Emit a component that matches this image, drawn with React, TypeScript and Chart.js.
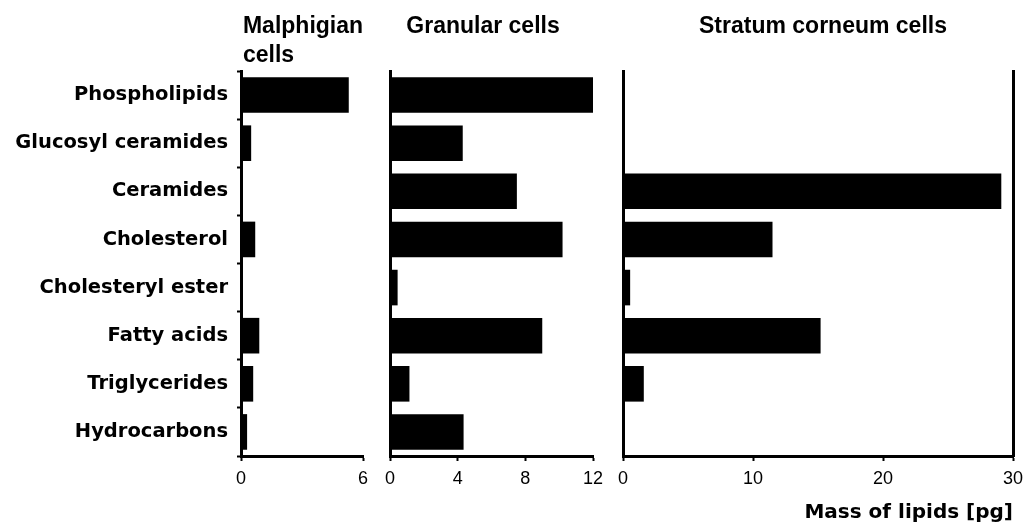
import React, { useEffect, useRef } from 'react';
import { Chart, registerables } from 'chart.js';

Chart.register(...registerables);

const categories = [
  'Phospholipids',
  'Glucosyl ceramides',
  'Ceramides',
  'Cholesterol',
  'Cholesteryl ester',
  'Fatty acids',
  'Triglycerides',
  'Hydrocarbons',
];
const malphigianValues = [5.3, 0.5, 0, 0.7, 0, 0.9, 0.6, 0.3];
const granularValues = [12.2, 4.3, 7.5, 10.2, 0.45, 9.0, 1.15, 4.35];
const stratumValues = [0, 0, 29.1, 11.5, 0.55, 15.2, 1.6, 0];

const malphigianTicks = [0, 6];
const granularTicks = [0, 4, 8, 12];
const stratumTicks = [0, 10, 20, 30];

const malphigianTitle = ['Malphigian', 'cells'];
const granularTitle = ['Granular cells'];
const stratumTitle = ['Stratum corneum cells'];
const axisTitle = 'Mass of lipids [pg]';

const SANS = "'Liberation Sans', Arial, sans-serif";
const WIDE_BOLD = "'DejaVu Sans', 'Liberation Sans', sans-serif";

type Panel = {
  left: number;
  width: number;
  values: number[];
  ticks: number[];
  title: string[];
  titleCenter: number;
  showLabels: boolean;
  rightBorder: boolean;
  axisTitle?: string;
  padLeft: number;
  padRight: number;
};

const titlePlugin = {
  id: 'panelTitle',
  afterDraw(chart: any, _args: any, opts: any) {
    const ctx = chart.ctx as CanvasRenderingContext2D;
    ctx.save();
    ctx.fillStyle = '#000';
    ctx.textBaseline = 'alphabetic';
    ctx.font = `bold 23px ${SANS}`;
    const lines: string[] = opts.lines || [];
    if (lines.length) {
      const w = ctx.measureText(lines[0]).width;
      const x = opts.centerX - w / 2;
      ctx.textAlign = 'left';
      lines.forEach((l, i) => ctx.fillText(l, x, 33 + i * 29));
    }
    if (opts.axisTitle) {
      ctx.font = `bold 20px ${WIDE_BOLD}`;
      ctx.textAlign = 'right';
      ctx.fillText(opts.axisTitle, chart.chartArea.right, 518);
    }
    ctx.restore();
  },
};

function PanelChart({ panel }: { panel: Panel }) {
  const ref = useRef<HTMLCanvasElement | null>(null);
  useEffect(() => {
    if (!ref.current) return;
    const maxVal = panel.ticks[panel.ticks.length - 1];
    const scales: any = {
      x: {
        type: 'linear',
        position: 'bottom',
        min: 0,
        max: maxVal,
        afterBuildTicks: (s: any) => {
          s.ticks = panel.ticks.map((v) => ({ value: v }));
        },
        afterFit: (s: any) => {
          s.height = 71;
          s.paddingLeft = 0;
          s.paddingRight = 0;
        },
        grid: {
          drawOnChartArea: false,
          drawTicks: true,
          tickLength: 5,
          tickWidth: 2,
          tickColor: '#000',
        },
        border: { display: true, color: '#000', width: 3 },
        ticks: {
          color: '#000',
          font: { family: SANS, size: 18 },
          padding: 7,
          maxRotation: 0,
          autoSkip: false,
        },
      },
      y: {
        type: 'category',
        position: 'left',
        afterFit: (s: any) => {
          s.width = panel.showLabels ? 241 : 0;
          s.paddingTop = 0;
          s.paddingBottom = 0;
        },
        grid: {
          drawOnChartArea: false,
          drawTicks: panel.showLabels,
          tickLength: 4,
          tickWidth: 2,
          tickColor: '#000',
        },
        border: { display: true, color: '#000', width: 3 },
        ticks: {
          display: panel.showLabels,
          color: '#000',
          font: { family: WIDE_BOLD, size: 19.5, weight: 'bold' },
          padding: 9,
        },
      },
    };
    if (panel.rightBorder) {
      scales.y2 = {
        type: 'category',
        position: 'right',
        labels: categories,
        afterFit: (s: any) => {
          s.width = 0;
          s.paddingTop = 0;
          s.paddingBottom = 0;
        },
        grid: { drawOnChartArea: false, drawTicks: false },
        border: { display: true, color: '#000', width: 3 },
        ticks: { display: false },
      };
    }
    const chart = new Chart(ref.current, {
      type: 'bar',
      data: {
        labels: categories,
        datasets: [
          {
            data: panel.values,
            backgroundColor: '#000',
            borderWidth: 0,
            barPercentage: 0.74,
            categoryPercentage: 1,
          },
        ],
      },
      options: {
        indexAxis: 'y',
        animation: false,
        responsive: false,
        layout: {
          padding: { top: 71, bottom: 0, left: panel.padLeft, right: panel.padRight },
        },
        scales,
        plugins: {
          legend: { display: false },
          tooltip: { enabled: false },
          panelTitle: {
            lines: panel.title,
            centerX: panel.titleCenter - panel.left,
            axisTitle: panel.axisTitle,
          },
        } as any,
      },
      plugins: [titlePlugin as any],
    });
    return () => chart.destroy();
  }, [panel]);
  return (
    <canvas
      ref={ref}
      width={panel.width}
      height={527}
      style={{ position: 'absolute', left: panel.left, top: 0, width: panel.width, height: 527 }}
    />
  );
}

const panels: Panel[] = [
  {
    left: 0,
    width: 375,
    values: malphigianValues,
    ticks: malphigianTicks,
    title: malphigianTitle,
    titleCenter: 303,
    showLabels: true,
    rightBorder: false,
    padLeft: 0,
    padRight: 12,
  },
  {
    left: 375,
    width: 235,
    values: granularValues,
    ticks: granularTicks,
    title: granularTitle,
    titleCenter: 483,
    showLabels: false,
    rightBorder: false,
    padLeft: 15,
    padRight: 17,
  },
  {
    left: 610,
    width: 413,
    values: stratumValues,
    ticks: stratumTicks,
    title: stratumTitle,
    titleCenter: 823,
    showLabels: false,
    rightBorder: true,
    axisTitle: axisTitle,
    padLeft: 13,
    padRight: 10,
  },
];

export default function App() {
  return (
    <div style={{ position: 'absolute', left: 0, top: 0, width: 1023, height: 527, background: '#fff' }}>
      {panels.map((p, i) => (
        <PanelChart key={i} panel={p} />
      ))}
    </div>
  );
}
